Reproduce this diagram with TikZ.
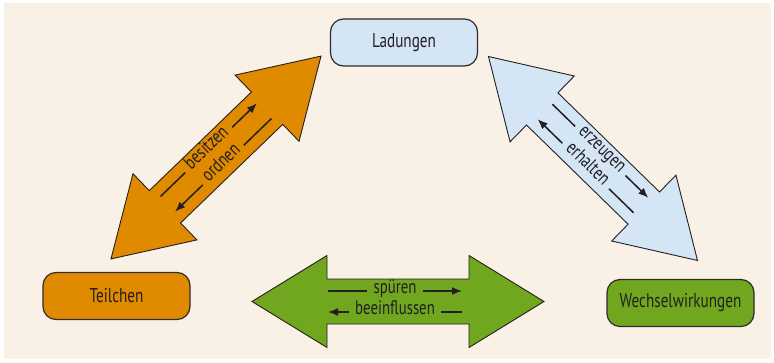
\documentclass[tikz,border=0pt]{standalone}
\usepackage{fontspec}
\setmainfont{PT Sans}[FakeStretch=0.76]
\usepackage{tikz}
\usetikzlibrary{arrows.meta,positioning}

\definecolor{bgbeige}{HTML}{FAF1E6}
\definecolor{textdark}{HTML}{231F20}
\definecolor{edgegray}{HTML}{2E2C2B}
\definecolor{orangeA}{HTML}{E08A00}
\definecolor{blueA}{HTML}{D4E5F6}
\definecolor{greenA}{HTML}{70A71F}

\begin{document}
\begin{tikzpicture}[x=1pt,y=1pt,
  box/.style={draw=edgegray,line width=1.2pt,rounded corners=13pt,minimum width=147pt,minimum height=47pt,font=\fontsize{20}{22}\selectfont,text=textdark},
  fatarrow/.style={draw=textdark,line width=0.9pt,line join=miter},
  lbl/.style={font=\fontsize{19.5}{21}\selectfont,text=textdark,inner xsep=6pt,inner ysep=0pt,text height=1.2ex,text depth=0.2ex},
  lbline/.style={line width=1.5pt,draw=textdark},
  tip/.style={-{Latex[length=10pt,width=8pt]}}]
% Background
\useasboundingbox (0,0) rectangle (774,362);
\fill[white] (0,0) rectangle (774,362);
\fill[bgbeige] (4,3) rectangle (771,359);

% Boxes
\node[box,fill=blueA] (ladungen) at (404,319.5) {Ladungen};
\node[box,fill=orangeA] (teilchen) at (116.5,66) {Teilchen};
\node[box,fill=greenA] (wechsel) at (680.5,59) {Wechselwirkungen};

% Teilchen <-> Ladungen (orange)
\begin{scope}[shift={(216,204.5)},rotate=44,transform shape]
\draw[fatarrow,fill=orangeA] (-146,0) -- (-71,46) -- (-71,22.5) -- (71,22.5) -- (71,46) -- (146,0)
  -- (71,-46) -- (71,-22.5) -- (-71,-22.5) -- (-71,-46) -- cycle;
\node[lbl] (besitzen) at (0,10.5) {besitzen};
\node[lbl] (ordnen) at (0,-10.5) {ordnen};
\draw[lbline] (-67,10.5) -- (besitzen.west);
\draw[lbline,tip] (besitzen.east) -- (67,10.5);
\draw[lbline,tip] (ordnen.west) -- (-67,-10.5);
\draw[lbline] (ordnen.east) -- (67,-10.5);
\end{scope}

% Ladungen <-> Wechselwirkungen (blue)
\begin{scope}[shift={(593,203.5)},rotate=-44.3,transform shape]
\draw[fatarrow,fill=blueA] (-146,0) -- (-71,46) -- (-71,22.5) -- (71,22.5) -- (71,46) -- (146,0)
  -- (71,-46) -- (71,-22.5) -- (-71,-22.5) -- (-71,-46) -- cycle;
\node[lbl] (erzeugen) at (0,10.5) {erzeugen};
\node[lbl] (erhalten) at (0,-10.5) {erhalten};
\draw[lbline] (-67,10.5) -- (erzeugen.west);
\draw[lbline,tip] (erzeugen.east) -- (67,10.5);
\draw[lbline,tip] (erhalten.west) -- (-67,-10.5);
\draw[lbline] (erhalten.east) -- (67,-10.5);
\end{scope}

% Teilchen <-> Wechselwirkungen (green)
\begin{scope}[shift={(398,60.5)}]
\draw[fatarrow,fill=greenA] (-146,0) -- (-71,46) -- (-71,22.5) -- (71,22.5) -- (71,46) -- (146,0)
  -- (71,-46) -- (71,-22.5) -- (-71,-22.5) -- (-71,-46) -- cycle;
\node[lbl] (spueren) at (-3,10.5) {spüren};
\node[lbl] (beeinfl) at (-3,-10.5) {beeinflussen};
\draw[lbline] (-70,10.5) -- (spueren.west);
\draw[lbline,tip] (spueren.east) -- (64,10.5);
\draw[lbline,tip] (beeinfl.west) -- (-70,-10.5);
\draw[lbline] (beeinfl.east) -- (64,-10.5);
\end{scope}
\end{tikzpicture}
\end{document}
